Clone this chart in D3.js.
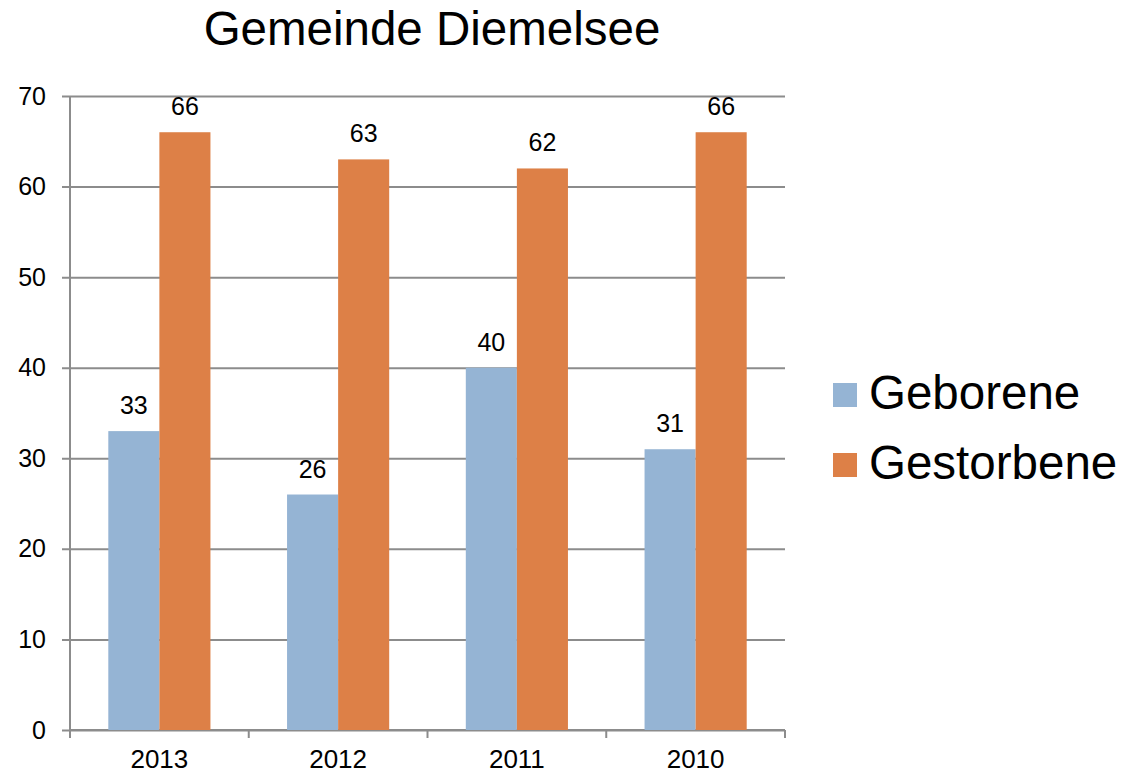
<!DOCTYPE html>
<html>
<head>
<meta charset="utf-8">
<script src="https://cdn.jsdelivr.net/npm/d3@7"></script>
<style>
  body { margin: 0; background: #fff; }
  text { font-family: "Liberation Sans", Arial, sans-serif; fill: #000; }
</style>
</head>
<body>
<div class="chart"></div>
<script>
var years = ["2013", "2012", "2011", "2010"];
var geborene = [33, 26, 40, 31];
var gestorbene = [66, 63, 62, 66];
var seriesNames = ["Geborene", "Gestorbene"];
var yTicks = [0, 10, 20, 30, 40, 50, 60, 70];
var colors = ["#95b4d4", "#dd8047"];

var margin = { top: 96, right: 347, bottom: 43, left: 70 },
    width = 1132 - margin.left - margin.right,
    height = 773 - margin.top - margin.bottom;

var svg = d3.select(".chart").append("svg")
    .attr("width", 1132)
    .attr("height", 773);

var g = svg.append("g")
    .attr("transform", "translate(" + margin.left + "," + margin.top + ")");

// scales
var x = d3.scaleBand().domain(years).range([0, width]);
var x1 = d3.scaleBand().domain(seriesNames)
    .range([0, x.bandwidth()])
    .paddingOuter(0.75);
var y = d3.scaleLinear().domain([0, 70]).range([height, 0]);

// gridlines + y axis
g.append("g")
    .call(d3.axisLeft(y).tickValues(yTicks).tickSize(8).tickPadding(16).tickFormat(d3.format("d")))
    .call(function (a) {
        a.select(".domain").attr("stroke", "#8c8c8c").attr("stroke-width", 2).attr("d", "M0,0V" + height);
        a.selectAll(".tick line").attr("stroke", "#8c8c8c").attr("stroke-width", 2)
            .attr("x1", -8).attr("x2", width);
        a.selectAll(".tick text").attr("font-size", 25).attr("fill", "#000");
    });

// x axis
g.append("g")
    .attr("transform", "translate(0," + height + ")")
    .call(d3.axisBottom(x).tickSize(0).tickPadding(20))
    .call(function (a) {
        a.select(".domain").attr("stroke", "#8c8c8c").attr("stroke-width", 2).attr("d", "M0,0H" + width);
        a.selectAll(".tick text").attr("font-size", 26).attr("fill", "#000");
    });

// category separators
g.append("g").selectAll("line")
    .data(d3.range(years.length + 1))
    .enter().append("line")
    .attr("x1", function (i) { return i * x.step(); })
    .attr("x2", function (i) { return i * x.step(); })
    .attr("y1", height)
    .attr("y2", height + 8)
    .attr("stroke", "#8c8c8c")
    .attr("stroke-width", 2);

var data = years.map(function (yr, i) {
    return { year: yr, values: [geborene[i], gestorbene[i]] };
});

var groups = g.selectAll(".grp")
    .data(data)
    .enter().append("g")
    .attr("class", "grp")
    .attr("transform", function (d) { return "translate(" + x(d.year) + ",0)"; });

groups.selectAll("rect")
    .data(function (d) { return d.values.map(function (v, k) { return { name: seriesNames[k], v: v, k: k }; }); })
    .enter().append("rect")
    .attr("x", function (d) { return x1(d.name); })
    .attr("width", x1.bandwidth())
    .attr("y", function (d) { return y(d.v); })
    .attr("height", function (d) { return height - y(d.v); })
    .attr("fill", function (d) { return colors[d.k]; });

groups.selectAll(".lbl")
    .data(function (d) { return d.values.map(function (v, k) { return { name: seriesNames[k], v: v }; }); })
    .enter().append("text")
    .attr("class", "lbl")
    .attr("x", function (d) { return x1(d.name) + x1.bandwidth() / 2; })
    .attr("y", function (d) { return y(d.v) - 17; })
    .attr("text-anchor", "middle")
    .attr("font-size", 25)
    .text(function (d) { return d.v; });

// title
svg.append("text")
    .attr("x", 432)
    .attr("y", 45)
    .attr("text-anchor", "middle")
    .attr("font-size", 47.5)
    .text("Gemeinde Diemelsee");

// legend
var legend = svg.append("g").attr("transform", "translate(833,383)");
seriesNames.forEach(function (name, i) {
    legend.append("rect")
        .attr("x", 0).attr("y", i * 70)
        .attr("width", 24).attr("height", 24)
        .attr("fill", colors[i]);
    legend.append("text")
        .attr("x", 36).attr("y", i * 70 + 26)
        .attr("font-size", 47.5)
        .text(name);
});
</script>
</body>
</html>
